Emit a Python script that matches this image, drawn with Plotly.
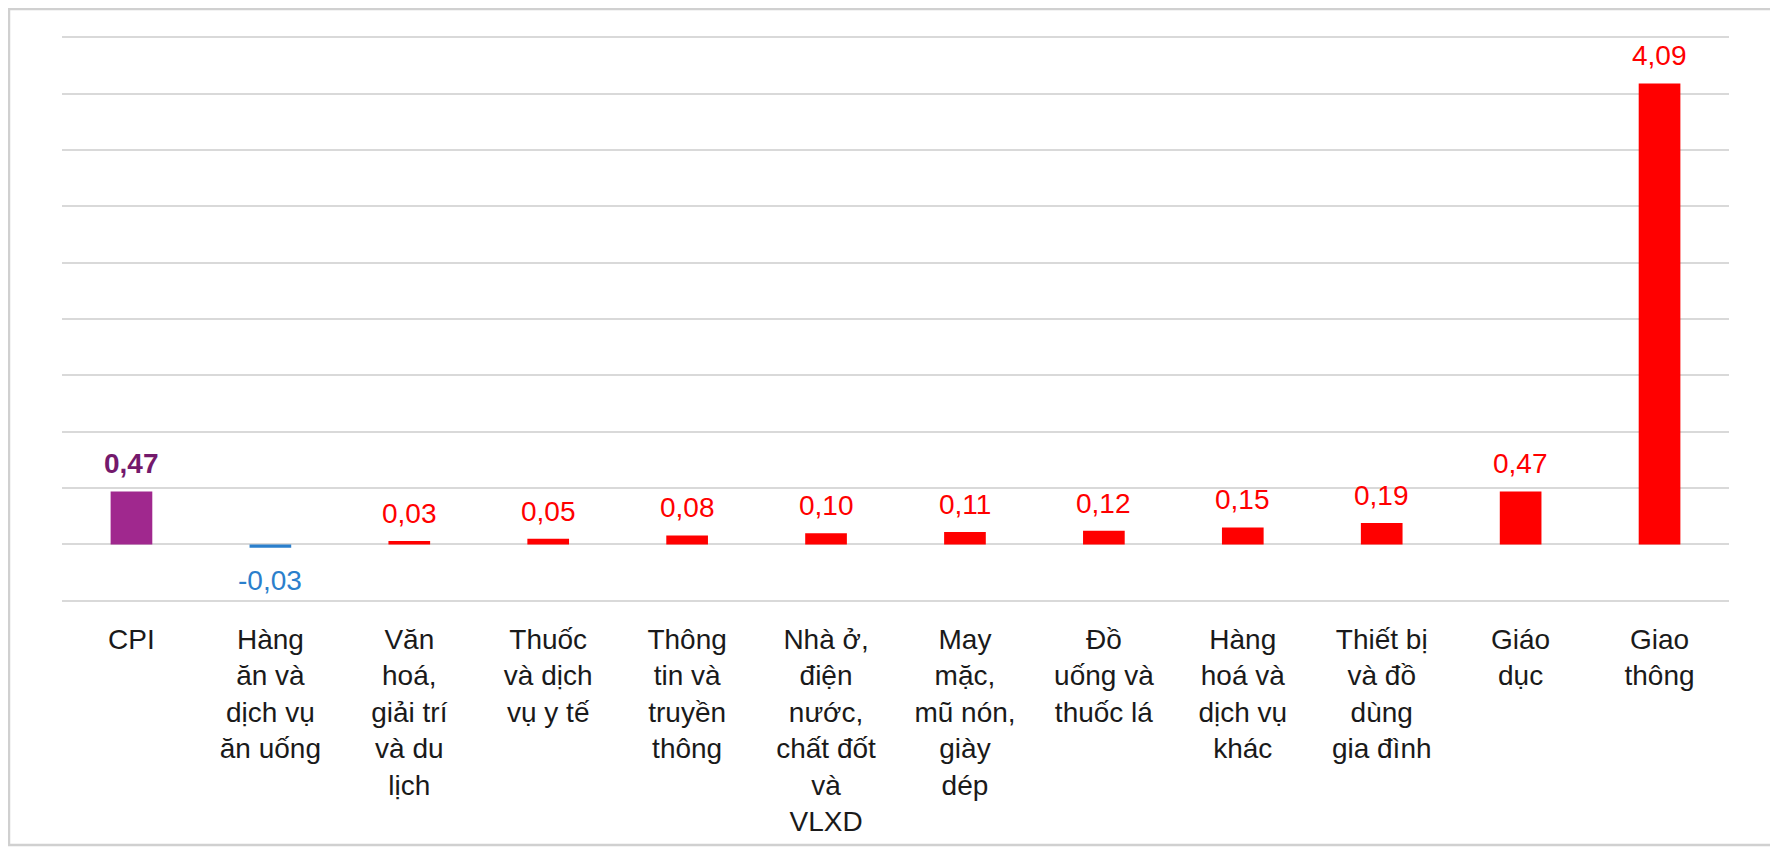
import plotly.graph_objects as go

# Category names (x axis), monthly CPI change by group (%)
categories = [
    "CPI",
    "Hàng<br>ăn và<br>dịch vụ<br>ăn uống",
    "Văn<br>hoá,<br>giải trí<br>và du<br>lịch",
    "Thuốc<br>và dịch<br>vụ y tế",
    "Thông<br>tin và<br>truyền<br>thông",
    "Nhà ở,<br>điện<br>nước,<br>chất đốt<br>và<br>VLXD",
    "May<br>mặc,<br>mũ nón,<br>giày<br>dép",
    "Đồ<br>uống và<br>thuốc lá",
    "Hàng<br>hoá và<br>dịch vụ<br>khác",
    "Thiết bị<br>và đồ<br>dùng<br>gia đình",
    "Giáo<br>dục",
    "Giao<br>thông",
]
values = [0.47, -0.03, 0.03, 0.05, 0.08, 0.10, 0.11, 0.12, 0.15, 0.19, 0.47, 4.09]

PURPLE = "#A0288E"
PURPLE_TEXT = "#74196C"
RED = "#FF0000"
BLUE = "#2B7FCC"
FONT = "Liberation Sans, Arial, sans-serif"


def bar_color(i, v):
    if i == 0:
        return PURPLE
    return BLUE if v < 0 else RED


def label_color(i, v):
    if i == 0:
        return PURPLE_TEXT
    return BLUE if v < 0 else RED


fig = go.Figure()

fig.add_trace(
    go.Bar(
        x=categories,
        y=values,
        marker=dict(color=[bar_color(i, v) for i, v in enumerate(values)], line=dict(width=0)),
        width=0.3,
        hoverinfo='x+y'
    )
)

# value labels above / below bars
for i, (cat, v) in enumerate(zip(categories, values)):
    txt = f"{v:.2f}".replace('.', ',')
    if i == 0:
        txt = f"<b>{txt}</b>"
    fig.add_annotation(
        x=cat,
        y=v,
        text=txt,
        showarrow=False,
        yanchor='bottom' if v >= 0 else 'top',
        yshift=10 if v >= 0 else -15,
        font=dict(family=FONT, size=28, color=label_color(i, v))
    )

# light frame around the whole chart
fig.add_shape(
    type='rect', xref='paper', yref='paper',
    x0=-0.0318, x1=1.0276, y0=-0.4259, y1=1.0458,
    line=dict(color='#D0D0D0', width=2.5),
    fillcolor='rgba(0,0,0,0)',
    layer='below'
)

fig.update_xaxes(
    showgrid=False,
    showline=False,
    ticks='',
    ticklabelstandoff=17,
    tickfont=dict(family=FONT, size=28, color='#1A1A1A'),
    tickangle=0,
    automargin=False
)

# range padded a little so the -0,5 and 4,5 gridlines are still drawn
fig.update_yaxes(
    range=[-0.52, 4.52],
    dtick=0.5,
    tick0=0,
    showgrid=True,
    gridcolor='#D9D9D9',
    gridwidth=2,
    zeroline=True,
    zerolinecolor='#D9D9D9',
    zerolinewidth=2,
    showticklabels=False,
    showline=False,
    automargin=False
)

# page body adds an 8px margin, so the figure is sized to fit inside the window
fig.update_layout(
    width=1770,
    height=842,
    margin=dict(l=54, r=49, t=27, b=247),
    plot_bgcolor='white',
    paper_bgcolor='white',
    showlegend=False,
    bargap=0.7
)

fig.write_html("out.html")
